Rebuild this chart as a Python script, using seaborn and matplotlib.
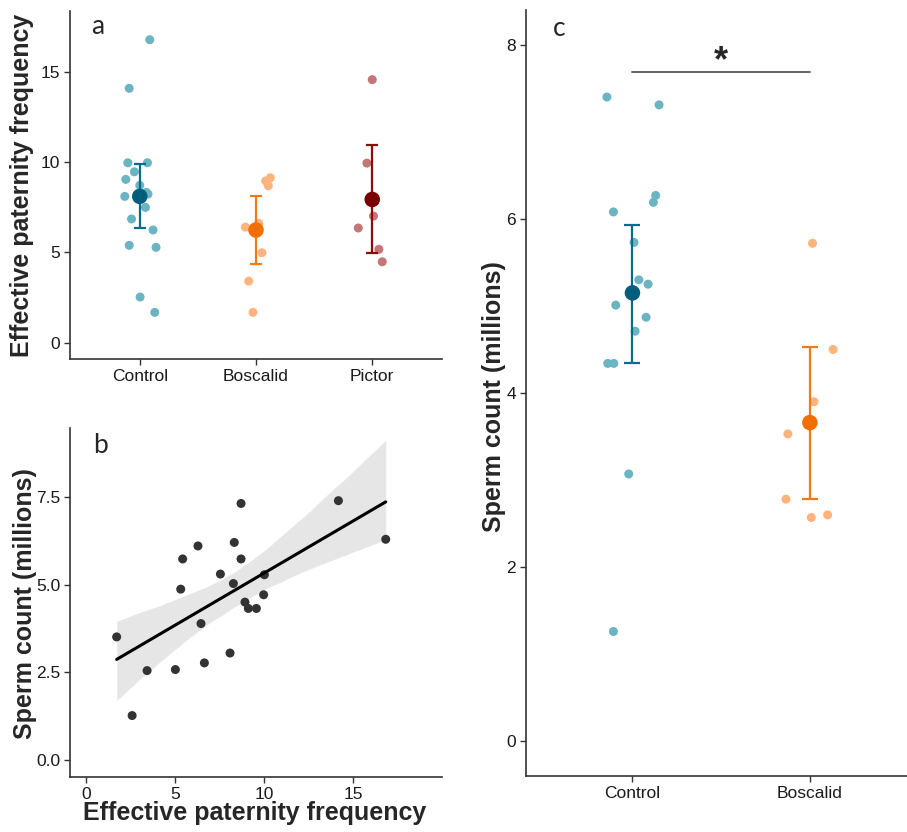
import matplotlib.pyplot as plt
import seaborn as sns
import pandas as pd
import numpy as np

# ---- panel a: effective paternity frequency per treatment ----
a_groups = ['Control', 'Boscalid', 'Pictor']
a_control = [16.77, 14.08, 9.96, 9.96, 9.46, 9.04, 8.71, 8.32, 8.23, 8.10,
             7.49, 6.85, 6.24, 5.39, 5.28, 2.53, 1.68]
a_control_jit = [0.086, -0.091, -0.103, 0.066, -0.046, -0.12, 0.0, 0.057, 0.071,
                 -0.129, 0.049, -0.071, 0.114, -0.091, 0.14, 0.003, 0.129]
a_boscalid = [9.13, 8.95, 8.69, 6.40, 6.61, 4.98, 3.41, 1.68]
a_boscalid_jit = [0.123, 0.083, 0.106, -0.091, 0.023, 0.051, -0.063, -0.026]
a_pictor = [14.56, 9.94, 7.01, 6.35, 5.17, 4.48]
a_pictor_jit = [0.0, -0.046, 0.011, -0.12, 0.057, 0.086]
a_mean = [8.10, 6.24, 7.93]
a_lo = [6.37, 4.34, 4.94]
a_hi = [9.87, 8.12, 10.92]

# ---- panel b: sperm count vs effective paternity frequency ----
b_epf = [1.70, 2.57, 3.41, 5.00, 5.30, 5.41, 6.27, 6.44, 6.63, 7.53, 8.07,
         8.26, 8.31, 8.69, 8.69, 8.91, 9.10, 9.55, 9.96, 10.0, 14.16, 16.82]
b_sperm = [3.51, 1.27, 2.55, 2.58, 4.87, 5.73, 6.10, 3.89, 2.77, 5.30, 3.05,
           5.03, 6.20, 7.31, 5.73, 4.50, 4.32, 4.32, 4.71, 5.28, 7.39, 6.29]

# ---- panel c: sperm count per treatment ----
c_groups = ['Control', 'Boscalid']
c_control = [7.40, 7.31, 6.27, 6.19, 6.08, 5.73, 5.30, 5.25, 5.01, 4.87, 4.71,
             4.34, 4.34, 3.07, 1.26]
c_control_jit = [-0.144, 0.150, 0.131, 0.118, -0.107, 0.009, 0.036, 0.088,
                 -0.094, 0.077, 0.015, -0.139, -0.105, -0.021, -0.107]
c_boscalid = [5.72, 4.50, 3.90, 3.53, 2.78, 2.57, 2.60]
c_boscalid_jit = [0.015, 0.131, 0.023, -0.124, -0.135, 0.008, 0.100]
c_mean = [5.15, 3.66]
c_lo = [4.35, 2.78]
c_hi = [5.93, 4.53]
c_sig_y = 7.69

light = {'Control': '#6BB5C3', 'Boscalid': '#FFB47E', 'Pictor': '#C67676'}
dark = {'Control': '#005E7D', 'Boscalid': '#F26E00', 'Pictor': '#7A0000'}
bar = {'Control': '#0B6C8A', 'Boscalid': '#F27A12', 'Pictor': '#8C0B0B'}

sns.set_style('ticks')
plt.rcParams['font.family'] = ['Liberation Sans', 'DejaVu Sans']
plt.rcParams['axes.edgecolor'] = '#333333'
plt.rcParams['axes.linewidth'] = 1.2
plt.rcParams['xtick.color'] = '#333333'
plt.rcParams['ytick.color'] = '#333333'
plt.rcParams['xtick.labelcolor'] = '#1a1a1a'
plt.rcParams['ytick.labelcolor'] = '#1a1a1a'

fig = plt.figure(figsize=(9.07, 8.32), dpi=100)
ax_a = fig.add_axes([0.0772, 0.5685, 0.4101, 0.4183])
ax_b = fig.add_axes([0.0772, 0.0661, 0.4101, 0.4195])
ax_c = fig.add_axes([0.5799, 0.0673, 0.4304, 0.9207])


def group_frame(groups, values, jitters):
    rows = []
    for i, (g, vals, jit) in enumerate(zip(groups, values, jitters)):
        for v, j in zip(vals, jit):
            rows.append({'group': g, 'value': v, 'xpos': i + j})
    return pd.DataFrame(rows)


def draw_groups(ax, groups, df, means, lo, hi, capsize):
    sns.scatterplot(data=df, x='xpos', y='value', hue='group', palette=light,
                    s=42, edgecolor='none', legend=False, ax=ax, zorder=2)
    for i, g in enumerate(groups):
        ax.errorbar(i, means[i], yerr=[[means[i] - lo[i]], [hi[i] - means[i]]],
                    fmt='none', ecolor=bar[g], elinewidth=1.6, capsize=capsize,
                    capthick=1.6, zorder=3)
    mdf = pd.DataFrame({'group': groups, 'x': range(len(groups)), 'mean': means})
    sns.scatterplot(data=mdf, x='x', y='mean', hue='group', palette=dark,
                    s=125, edgecolor='none', legend=False, ax=ax, zorder=4)
    ax.set_xticks(range(len(groups)))
    ax.set_xticklabels(groups)
    ax.set_xlabel('')


# panel a
df_a = group_frame(a_groups, [a_control, a_boscalid, a_pictor],
                   [a_control_jit, a_boscalid_jit, a_pictor_jit])
draw_groups(ax_a, a_groups, df_a, a_mean, a_lo, a_hi, 4.5)
ax_a.set_xlim(-0.6, 2.6)
ax_a.set_ylim(-0.9, 18.36)
ax_a.set_yticks([0, 5, 10, 15])
ax_a.set_ylabel('Effective paternity frequency', fontsize=18, fontweight='bold')
ax_a.yaxis.set_label_coords(-0.098, 0.5)
ax_a.text(0.075, 0.955, 'a', transform=ax_a.transAxes, fontsize=19,
          family='Lato', ha='center', va='center')

# panel b
df_b = pd.DataFrame({'epf': b_epf, 'sperm': b_sperm})
sns.regplot(data=df_b, x='epf', y='sperm', scatter=False, ci=95, n_boot=2000,
            seed=3, color='#5a5a5a', line_kws={'alpha': 0}, ax=ax_b)
sns.regplot(data=df_b, x='epf', y='sperm', ci=None, color='black',
            scatter_kws={'s': 42, 'color': '#333333', 'edgecolor': 'none', 'alpha': 1},
            line_kws={'linewidth': 2.2}, ax=ax_b)
ax_b.set_xlim(-0.92, 19.98)
ax_b.set_ylim(-0.48, 9.46)
ax_b.set_xticks([0, 5, 10, 15])
ax_b.set_yticks([0, 2.5, 5, 7.5])
ax_b.set_yticklabels(['0.0', '2.5', '5.0', '7.5'])
ax_b.set_xlabel('Effective paternity frequency', fontsize=18, fontweight='bold')
ax_b.set_ylabel('Sperm count (millions)', fontsize=18, fontweight='bold')
ax_b.xaxis.set_label_coords(0.497, -0.068)
ax_b.yaxis.set_label_coords(-0.09, 0.497)
ax_b.text(0.081, 0.951, 'b', transform=ax_b.transAxes, fontsize=19,
          family='Lato', ha='center', va='center')

# panel c
df_c = group_frame(c_groups, [c_control, c_boscalid], [c_control_jit, c_boscalid_jit])
draw_groups(ax_c, c_groups, df_c, c_mean, c_lo, c_hi, 6)
ax_c.plot([0, 1], [c_sig_y, c_sig_y], color='#555555', linewidth=1.3)
ax_c.text(0.5, c_sig_y - 0.09, '*', fontsize=26, fontweight='bold',
          ha='center', va='bottom')
ax_c.set_xlim(-0.6, 1.6)
ax_c.set_ylim(-0.4, 8.4)
ax_c.set_yticks([0, 2, 4, 6, 8])
ax_c.set_ylabel('Sperm count (millions)', fontsize=18, fontweight='bold')
ax_c.yaxis.set_label_coords(-0.05, 0.495)
ax_c.text(0.085, 0.976, 'c', transform=ax_c.transAxes, fontsize=19,
          family='Lato', ha='center', va='center')

for ax in (ax_a, ax_b, ax_c):
    sns.despine(ax=ax)
    ax.tick_params(labelsize=12.5, length=4, width=1, pad=3)

fig.savefig('out.png', dpi=100)
